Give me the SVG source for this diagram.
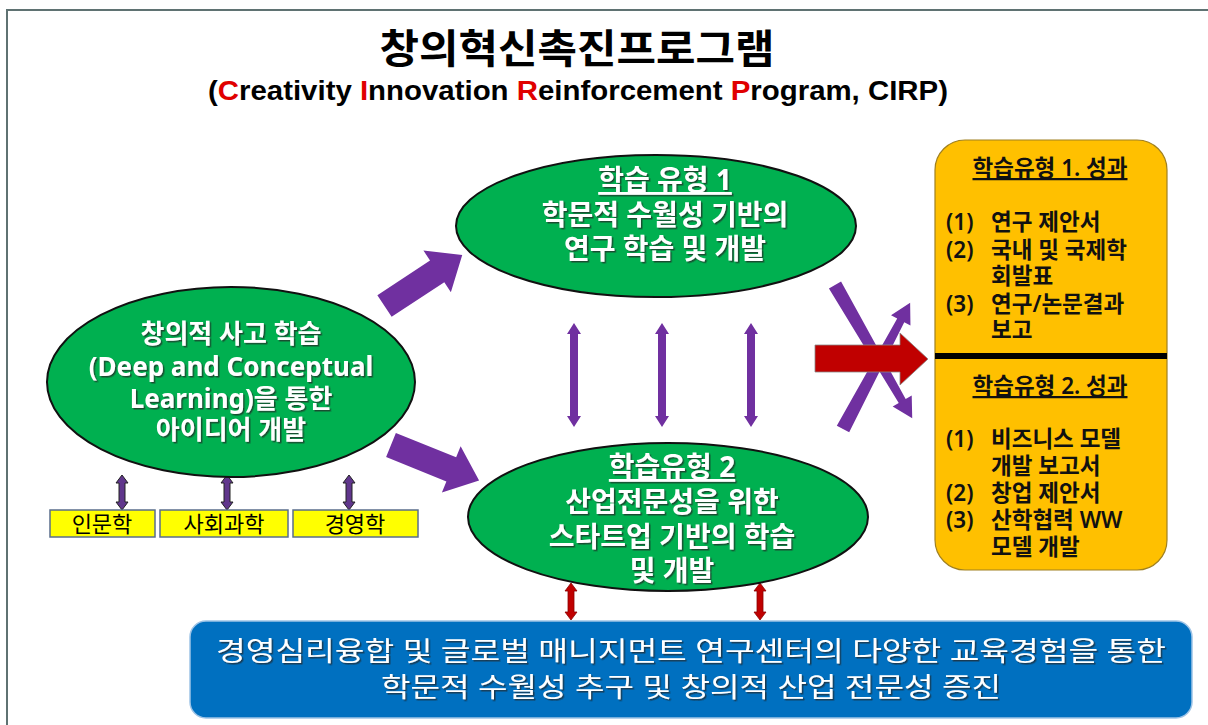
<svg xmlns="http://www.w3.org/2000/svg" width="1208" height="725" viewBox="0 0 1208 725">
<defs>
<filter id="sh" x="-10%" y="-10%" width="120%" height="130%"><feDropShadow dx="1.5" dy="1.5" stdDeviation="0.6" flood-color="#222" flood-opacity="0.7"/></filter>
<style>
.ko{font-family:'Noto Sans','Noto Sans CJK KR',sans-serif}
.wb{fill:#fff;font-weight:bold;text-anchor:middle;filter:url(#sh)}
.ell{fill:#00b050;stroke:#111;stroke-width:2}
.pp{fill:#7030a0}
.dp{fill:#60368c;stroke:#222;stroke-width:1}
.rd{fill:#c00000;stroke:#8a0000;stroke-width:0.8}
.yb{fill:#ffff00;stroke:#5a6e8c;stroke-width:1.5}
.yt{font-size:22px;fill:#000;text-anchor:middle}
.ot{font-size:22.5px;fill:#111;font-weight:600}
</style>
</defs>
<rect width="1208" height="725" fill="#fff"/>
<path d="M7,725 V10 H1208" fill="none" stroke="#5f7272" stroke-width="2"/>

<g id="title">
<text x="577" y="63" class="ko" font-size="40" font-weight="bold" text-anchor="middle" textLength="395" lengthAdjust="spacingAndGlyphs" style="font-family:'Noto Sans CJK KR',sans-serif">창의혁신촉진프로그램</text>
<text x="578" y="100" font-family="'Liberation Sans',Arial,sans-serif" font-size="27" font-weight="bold" text-anchor="middle" textLength="740" lengthAdjust="spacingAndGlyphs">(<tspan fill="#e00000">C</tspan>reativity <tspan fill="#e00000">I</tspan>nnovation <tspan fill="#e00000">R</tspan>einforcement <tspan fill="#e00000">P</tspan>rogram, CIRP)</text>
</g>

<g id="connectors">
<path class="pp" d="M0,-13 H63 V-25 L93,0 L63,25 V13 H0 Z" transform="translate(384.5,306) rotate(-33.3)"/>
<path class="pp" d="M0,-13 H65 V-25 L95,0 L65,25 V13 H0 Z" transform="translate(391,445) rotate(22)"/>
<path class="pp" d="M574,323 L581,334 H578 V416 H581 L574,427 L567,416 H570 V334 H567 Z"/>
<path class="pp" d="M662,323 L669,334 H666 V416 H669 L662,427 L655,416 H658 V334 H655 Z"/>
<path class="pp" d="M751,323 L758,334 H755 V416 H758 L751,427 L744,416 H747 V334 H744 Z"/>
<path class="pp" d="M0,-7 L134,-4 V-11 L154,0 L134,11 V4 L0,7 Z" transform="translate(835,285) rotate(59.9)"/>
<path class="pp" d="M0,-7 L123,-4 V-11 L143,0 L123,11 V4 L0,7 Z" transform="translate(843,429) rotate(-62)"/>
<path class="rd" d="M815,345 H900 V333 L928,359 L900,385 V372 H815 Z" style="stroke:#888"/>
<path class="dp" d="M122,475 L128,483 H125 V502 H128 L122,510 L116,502 H119 V483 H116 Z"/>
<path class="dp" d="M227,475 L233,483 H230 V502 H233 L227,510 L221,502 H224 V483 H221 Z"/>
<path class="dp" d="M349,475 L355,483 H352 V502 H355 L349,510 L343,502 H346 V483 H343 Z"/>
<path class="rd" d="M571,583 L577,591 H574 V612 H577 L571,620 L565,612 H568 V591 H565 Z"/>
<path class="rd" d="M760,583 L766,591 H763 V612 H766 L760,620 L754,612 H757 V591 H754 Z"/>
</g>

<g id="node-creative">
<ellipse class="ell" cx="231" cy="382" rx="184" ry="95"/>
<text class="ko wb" font-size="26"><tspan x="231" y="343">창의적 사고 학습</tspan><tspan x="231" y="376">(Deep and Conceptual</tspan><tspan x="231" y="408">Learning)을 통한</tspan><tspan x="231" y="439">아이디어 개발</tspan></text>
</g>

<g id="node-type1">
<ellipse class="ell" cx="656" cy="226" rx="200" ry="71"/>
<text class="ko wb" font-size="28"><tspan x="665" y="190" text-decoration="underline">학습 유형 1</tspan><tspan x="665" y="225">학문적 수월성 기반의</tspan><tspan x="665" y="259">연구 학습 및 개발</tspan></text>
</g>

<g id="node-type2">
<ellipse class="ell" cx="668" cy="517" rx="200" ry="74"/>
<text class="ko wb" font-size="28"><tspan x="672" y="477" text-decoration="underline">학습유형 2</tspan><tspan x="672" y="512">산업전문성을 위한</tspan><tspan x="672" y="547">스타트업 기반의 학습</tspan><tspan x="672" y="581">및 개발</tspan></text>
</g>

<g id="node-humanities"><rect class="yb" x="50" y="510" width="105" height="27"/><text class="ko yt" x="102" y="532">인문학</text></g>
<g id="node-social"><rect class="yb" x="160" y="510" width="128" height="27"/><text class="ko yt" x="224" y="532">사회과학</text></g>
<g id="node-business"><rect class="yb" x="293" y="510" width="125" height="27"/><text class="ko yt" x="355" y="532">경영학</text></g>

<g id="node-outcomes">
<rect x="935" y="140" width="232" height="430" rx="30" fill="#ffc000" stroke="#a08020" stroke-width="1.2"/>
<line x1="935" y1="356" x2="1167" y2="356" stroke="#000" stroke-width="6"/>
<text class="ko ot" x="1050" y="176" text-anchor="middle" text-decoration="underline">학습유형 1. 성과</text>
<text class="ko ot"><tspan x="946" y="230">(1)</tspan><tspan x="946" y="258">(2)</tspan><tspan x="946" y="312">(3)</tspan></text>
<text class="ko ot"><tspan x="991" y="230">연구 제안서</tspan><tspan x="991" y="258">국내 및 국제학</tspan><tspan x="991" y="284">회발표</tspan><tspan x="991" y="312">연구/논문결과</tspan><tspan x="991" y="338">보고</tspan></text>
<text class="ko ot" x="1050" y="394" text-anchor="middle" text-decoration="underline">학습유형 2. 성과</text>
<text class="ko ot"><tspan x="946" y="447">(1)</tspan><tspan x="946" y="501">(2)</tspan><tspan x="946" y="528">(3)</tspan></text>
<text class="ko ot"><tspan x="991" y="447">비즈니스 모델</tspan><tspan x="991" y="474">개발 보고서</tspan><tspan x="991" y="501">창업 제안서</tspan><tspan x="991" y="528">산학협력 WW</tspan><tspan x="991" y="555">모델 개발</tspan></text>
</g>

<g id="node-center">
<rect x="190" y="621" width="1002" height="97" rx="16" fill="#0070c0" stroke="#9dc3e6" stroke-width="1.5"/>
<text class="ko" font-size="27" fill="#fff" text-anchor="middle" style="filter:url(#sh)"><tspan x="691" y="661" textLength="950" lengthAdjust="spacingAndGlyphs">경영심리융합 및 글로벌 매니지먼트 연구센터의 다양한 교육경험을 통한</tspan><tspan x="691" y="697" textLength="620" lengthAdjust="spacingAndGlyphs">학문적 수월성 추구 및 창의적 산업 전문성 증진</tspan></text>
</g>
</svg>
